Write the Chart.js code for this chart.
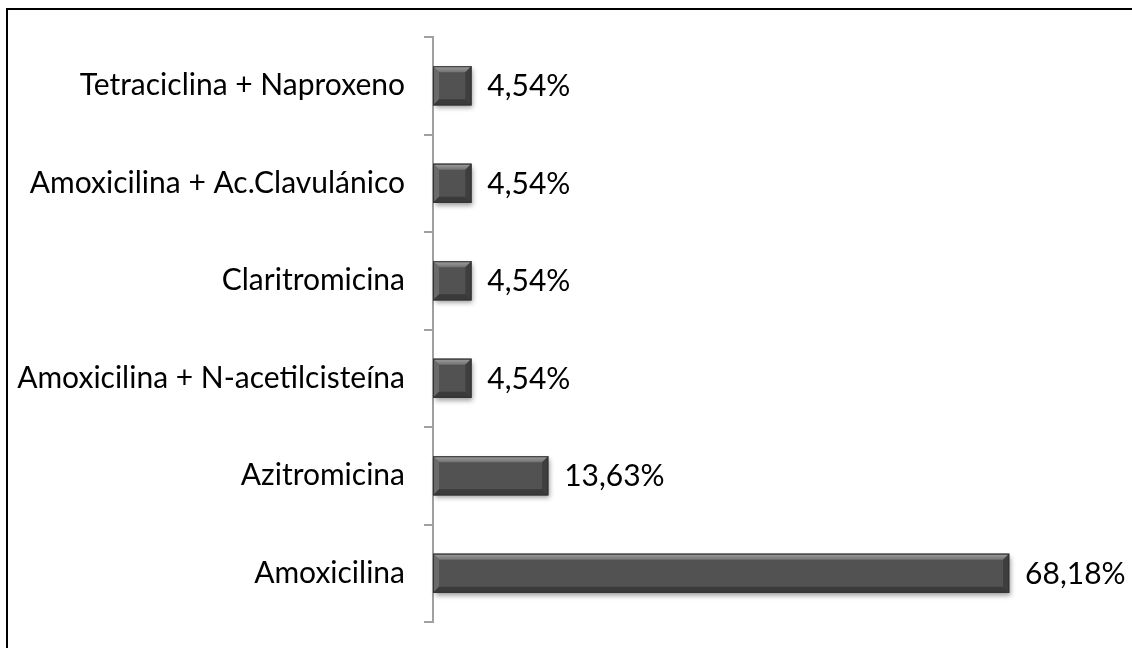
<!DOCTYPE html>
<html>
<head>
<meta charset="utf-8">
<script src="https://cdn.jsdelivr.net/npm/chart.js@4"></script>
<style>
  html, body { margin: 0; padding: 0; background: #fff; }
  #wrap { position: relative; width: 1132px; height: 648px; }
  #frame { position: absolute; left: 6px; top: 8px; right: 0; bottom: 0;
           border-left: 2px solid #000; border-top: 2px solid #000; pointer-events: none; }
</style>
</head>
<body>
<div id="wrap">
  <canvas id="myChart" width="1132" height="648"></canvas>
  <div id="frame"></div>
</div>
<script>
const labels = [
    'Tetraciclina + Naproxeno',
    'Amoxicilina + Ac.Clavulánico',
    'Claritromicina',
    'Amoxicilina + N-acetilcisteína',
    'Azitromicina',
    'Amoxicilina'
];
const values = [4.54, 4.54, 4.54, 4.54, 13.63, 68.18];
const xMax = 80;

const FONT = 'Lato';
const FONT_SIZE = 30;

// shadow under each bar
const barShadow = {
    id: 'barShadow',
    beforeDatasetsDraw(chart) {
        const ctx = chart.ctx;
        chart.getDatasetMeta(0).data.forEach(bar => {
            const p = bar.getProps(['x', 'y', 'base', 'height'], true);
            ctx.save();
            ctx.shadowColor = 'rgba(0,0,0,0.4)';
            ctx.shadowBlur = 5;
            ctx.shadowOffsetX = 2;
            ctx.shadowOffsetY = 3;
            ctx.fillStyle = '#505050';
            ctx.fillRect(p.base, p.y - p.height / 2, p.x - p.base, p.height);
            ctx.restore();
        });
    }
};

// bevel edges and value labels
const bevelLabels = {
    id: 'bevelLabels',
    afterDatasetsDraw(chart) {
        const ctx = chart.ctx;
        chart.getDatasetMeta(0).data.forEach((bar, i) => {
            const p = bar.getProps(['x', 'y', 'base', 'height'], true);
            const x0 = p.base, x1 = p.x, y0 = p.y - p.height / 2, y1 = p.y + p.height / 2;
            const b = 6;
            const poly = (pts, col) => {
                ctx.beginPath();
                ctx.moveTo(pts[0][0], pts[0][1]);
                pts.slice(1).forEach(q => ctx.lineTo(q[0], q[1]));
                ctx.closePath();
                ctx.fillStyle = col;
                ctx.fill();
            };
            ctx.save();
            const g = ctx.createLinearGradient(0, y0, 0, y0 + b);
            g.addColorStop(0, '#a0a0a0');
            g.addColorStop(1, '#727272');
            poly([[x0, y0], [x1, y0], [x1 - b, y0 + b], [x0 + b, y0 + b]], g);
            poly([[x0, y0], [x0 + b, y0 + b], [x0 + b, y1 - b], [x0, y1]], '#6a6a6a');
            poly([[x1, y0], [x1, y1], [x1 - b, y1 - b], [x1 - b, y0 + b]], '#3e3e3e');
            poly([[x0, y1], [x0 + b, y1 - b], [x1 - b, y1 - b], [x1, y1]], '#3a3a3a');
            ctx.strokeStyle = '#333333';
            ctx.lineWidth = 1;
            ctx.strokeRect(x0 + 0.5, y0 + 0.5, x1 - x0 - 1, y1 - y0 - 1);

            ctx.fillStyle = '#000';
            ctx.font = FONT_SIZE + 'px ' + FONT;
            ctx.textAlign = 'left';
            ctx.textBaseline = 'middle';
            ctx.fillText(values[i].toFixed(2).replace('.', ',') + '%', x1 + 16, p.y + 1);
            ctx.restore();
        });
    }
};

const data = {
    labels: labels,
    datasets: [{
        data: values,
        backgroundColor: '#525252',
        borderWidth: 0,
        barThickness: 39
    }]
};

const config = {
    type: 'bar',
    data: data,
    options: {
        indexAxis: 'y',
        responsive: false,
        animation: false,
        layout: { padding: { top: 37, bottom: 26, right: 23, left: 0 } },
        plugins: {
            legend: { display: false },
            tooltip: { enabled: false }
        },
        scales: {
            x: {
                display: false,
                min: 0,
                max: xMax
            },
            y: {
                afterFit(scale) {
                    scale.width = 433;
                    scale.paddingTop = 0;
                    scale.paddingBottom = 0;
                },
                border: { display: true, color: '#a0a0a0', width: 2 },
                grid: {
                    offset: true,
                    drawOnChartArea: false,
                    drawTicks: true,
                    tickLength: 9,
                    color: '#a0a0a0',
                    lineWidth: 2
                },
                ticks: {
                    padding: 19,
                    color: '#000',
                    font: { family: FONT, size: FONT_SIZE }
                }
            }
        }
    },
    plugins: [barShadow, bevelLabels]
};

var myChart = new Chart(
    document.getElementById('myChart'),
    config
);
</script>
</body>
</html>
